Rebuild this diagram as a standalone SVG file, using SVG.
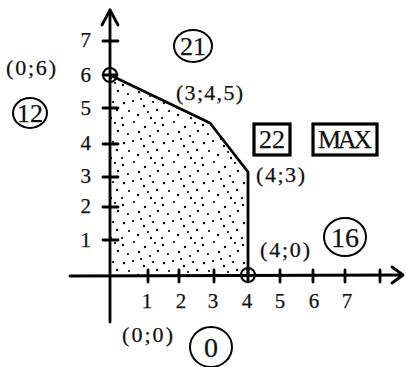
<svg xmlns="http://www.w3.org/2000/svg" width="406" height="367" viewBox="0 0 406 367">
<style>
.ax{stroke:#000;stroke-width:2.8;fill:none;stroke-linecap:round;stroke-linejoin:round}
.bd{stroke:#000;stroke-width:2.8;fill:none;stroke-linejoin:round}
.t{font-family:"Liberation Serif","Times New Roman",serif;fill:#111;stroke:#111;stroke-width:0.25}
.lbl{font-size:22px}
.num{font-size:21px}
.big{font-size:26px}
.huge{font-size:28px}
.ring{fill:none;stroke:#000;stroke-width:2}
.box{fill:#fff;stroke:#000;stroke-width:3.2}
</style>
<defs>
<pattern id="dots" patternUnits="userSpaceOnUse" width="40" height="40">
<g fill="#000">
<circle cx="3" cy="5" r="1.2"/><circle cx="14" cy="2" r="1.1"/><circle cx="25" cy="7" r="1.2"/><circle cx="35" cy="3" r="1.1"/>
<circle cx="8" cy="14" r="1.1"/><circle cx="19" cy="12" r="1.2"/><circle cx="30" cy="16" r="1.1"/><circle cx="38" cy="11" r="1.2"/>
<circle cx="4" cy="23" r="1.2"/><circle cx="13" cy="21" r="1.1"/><circle cx="24" cy="26" r="1.2"/><circle cx="33" cy="22" r="1.1"/>
<circle cx="9" cy="31" r="1.1"/><circle cx="18" cy="35" r="1.2"/><circle cx="28" cy="32" r="1.1"/><circle cx="37" cy="30" r="1.2"/>
<circle cx="2" cy="38" r="1.1"/><circle cx="21" cy="19" r="1.1"/><circle cx="31" cy="38" r="1.2"/>
</g>
</pattern>
</defs>
<g id="region">
<polygon points="110,75 210,123 248,172 248,275 110,275" fill="url(#dots)"/>
<polyline class="bd" points="110,75 210,123 248,172 248,275"/>
</g>
<g id="connectors">
<g id="y-axis">
<line class="ax" x1="110" y1="322" x2="110" y2="10"/>
<polyline class="ax" points="102,25 110,10 118,25"/>
<path class="ax" d="M103,41H118M103,108H118M103,144H118M103,177H118M103,207H118M103,240H118"/>
</g>
<g id="x-axis">
<line class="ax" x1="70" y1="276" x2="402" y2="275"/>
<polyline class="ax" points="392,267 403,275 392,283"/>
<path class="ax" d="M148,270V282M179,270V282M214,270V282M280,270V282M313,270V282M345,270V282M380,270V282"/>
</g>
</g>
<g id="vertex-0-6">
<circle class="ring" cx="110" cy="75" r="7" stroke-width="2.6"/>
<line class="ax" x1="103" y1="75" x2="117" y2="75"/>
<text class="t lbl" x="6" y="75" textLength="50">(0;6)</text>
</g>
<g id="vertex-4-0">
<circle class="ring" cx="248" cy="275" r="7" stroke-width="2.6"/>
<line class="ax" x1="248" y1="268" x2="248" y2="282"/>
<text class="t lbl" x="260" y="257" textLength="50">(4;0)</text>
</g>
<g id="vertex-3-45"><text class="t lbl" x="176" y="100" textLength="67">(3;4,5)</text></g>
<g id="vertex-4-3"><text class="t lbl" x="256" y="182" textLength="49">(4;3)</text></g>
<g id="vertex-0-0"><text class="t lbl" x="122" y="342" textLength="51">(0;0)</text></g>
<g id="y-labels" class="t num" text-anchor="end">
<text x="91" y="47">7</text><text x="91" y="82">6</text><text x="91" y="115">5</text><text x="91" y="150">4</text>
<text x="91" y="183">3</text><text x="91" y="213">2</text><text x="91" y="247">1</text>
</g>
<g id="x-labels" class="t num" text-anchor="middle">
<text x="147" y="308">1</text><text x="181" y="308">2</text><text x="213" y="308">3</text><text x="247" y="308">4</text>
<text x="280" y="308">5</text><text x="314" y="308">6</text><text x="347" y="308">7</text>
</g>
<g id="value-12"><ellipse class="ring" cx="30" cy="113" rx="17" ry="15"/><text class="t big" x="30" y="122" text-anchor="middle">12</text></g>
<g id="value-21"><ellipse class="ring" cx="193" cy="46" rx="19" ry="16"/><text class="t big" x="193" y="55" text-anchor="middle">21</text></g>
<g id="value-16"><ellipse class="ring" cx="345" cy="237" rx="21" ry="19"/><text class="t huge" x="345" y="247" text-anchor="middle">16</text></g>
<g id="value-0"><ellipse class="ring" cx="211" cy="347" rx="21" ry="20"/><text class="t huge" x="211" y="357" text-anchor="middle">0</text></g>
<g id="value-22"><rect class="box" x="254" y="124" width="36" height="31"/><text class="t big" x="272" y="148" text-anchor="middle">22</text></g>
<g id="max"><rect class="box" x="313" y="124" width="64" height="31"/><text class="t big" x="345" y="148" text-anchor="middle" textLength="54">MAX</text></g>
</svg>
